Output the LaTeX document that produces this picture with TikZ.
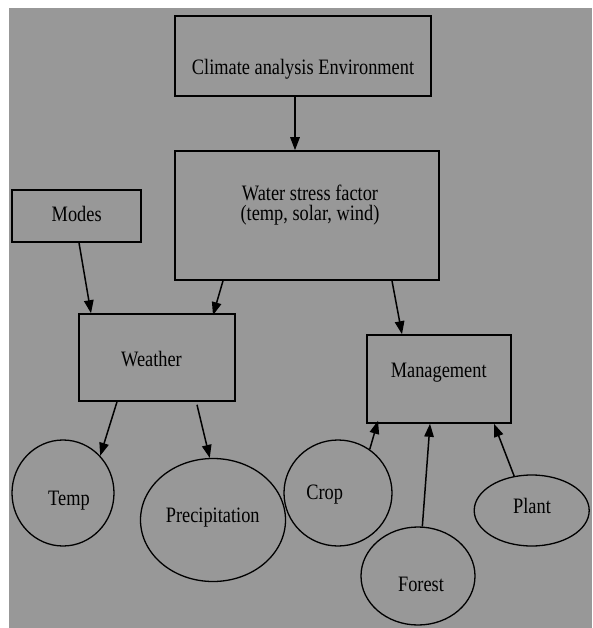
\documentclass[tikz,border=0pt]{standalone}
\usepackage{fontspec}
\setmainfont{Liberation Serif}[FakeStretch=0.834]
\usetikzlibrary{arrows.meta,shapes.geometric,calc}
\definecolor{panel}{RGB}{152,152,152}
\begin{document}
\begin{tikzpicture}[x=1pt,y=-1pt,
  every node/.style={font=\fontsize{22}{20}\selectfont, text=black},
  box/.style={draw=black, line width=1.6pt, rectangle, inner sep=0pt},
  oval/.style={draw=black, line width=1.3pt, ellipse, inner sep=0pt},
  txt/.style={anchor=base, inner sep=0pt, align=center},
  link/.style={line width=1.5pt, -{Triangle[length=13pt,width=9.5pt]}}]
  % page and grey panel
  \useasboundingbox (0,0) rectangle (592,628);
  \fill[white] (0,0) rectangle (592,628);
  \fill[panel] (9,8) rectangle (592,628);

  % boxes
  \node[box, minimum width=256pt, minimum height=80pt] (climate) at (303,56) {};
  \node[txt] (climateT) at (303,75) {Climate analysis Environment};

  \node[box, minimum width=264pt, minimum height=129pt] (water) at (307,215.5) {};
  \node[txt] (waterT) at (310,220) {Water stress factor\\(temp, solar, wind)};

  \node[box, minimum width=129pt, minimum height=52pt] (modes) at (76.6,216) {};
  \node[txt] (modesT) at (76.7,221.5) {Modes};

  \node[box, minimum width=156pt, minimum height=87pt] (weather) at (157,357.5) {};
  \node[txt] (weatherT) at (151.5,366) {Weather};

  \node[box, minimum width=144pt, minimum height=88pt] (mgmt) at (439,379) {};
  \node[txt] (mgmtT) at (438.7,377) {Management};

  % ovals
  \node[oval, minimum width=102pt, minimum height=106pt] (temp) at (63,493) {};
  \node[txt] (tempT) at (69,505) {Temp};

  \node[oval, minimum width=145pt, minimum height=123pt] (precip) at (213,520) {};
  \node[txt] (precipT) at (212.7,522.7) {Precipitation};

  \node[oval, minimum width=108pt, minimum height=106pt] (crop) at (338,493) {};
  \node[txt] (cropT) at (324.7,499) {Crop};

  \node[oval, minimum width=114pt, minimum height=98pt] (forest) at (418,576) {};
  \node[txt] (forestT) at (421,591) {Forest};

  \node[oval, minimum width=115pt, minimum height=71pt] (plant) at (531.7,510.5) {};
  \node[txt] (plantT) at (532,513) {Plant};

  % connectors
  \draw[link] ($(climate.south)+(-8,0)$) -- ($(water.north)+(-12,0)$);
  \draw[link] ($(modes.south)+(2.4,0)$) -- ($(weather.north)+(-66,0)$);
  \draw[link] ($(water.south)+(-84,0)$) -- ($(weather.north)+(56,2)$);
  \draw[link] ($(water.south)+(85,0)$) -- ($(mgmt.north)+(-37,0)$);
  \draw[link] ($(weather.south)+(-40,0)$) -- (temp.45.7);
  \draw[link] ($(weather.south)+(40,3)$) -- (precip.93);
  \draw[link] (crop.54) -- ($(mgmt.south)+(-61,-3)$);
  \draw[link] (forest.85) -- ($(mgmt.south)+(-9,0)$);
  \draw[link] (plant.117) -- ($(mgmt.south)+(55,0)$);
\end{tikzpicture}
\end{document}
